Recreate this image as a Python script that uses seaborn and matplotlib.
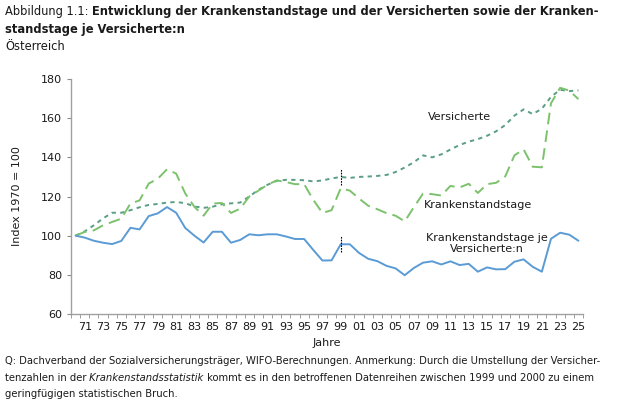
import matplotlib
matplotlib.use('Agg')
import numpy as np
import pandas as pd
import seaborn as sns
import matplotlib.pyplot as plt

# data (Index 1970 = 100)
years = list(range(1970, 2026))
versicherte = [100.0, 102.2, 105.3, 108.8, 111.7, 111.7, 113.0, 114.5, 115.7, 116.2,
               116.9, 117.2, 116.6, 114.9, 114.2, 114.8, 116.0, 116.5, 116.9, 120.0,
               123.4, 126.0, 128.0, 128.5, 128.5, 128.3, 127.7, 128.2, 129.2, 130.0,
               129.5, 130.0, 130.2, 130.5, 131.0, 132.5, 134.8, 137.5, 141.0, 140.0,
               141.5, 144.0, 146.3, 148.0, 149.3, 151.0, 153.3, 156.5, 161.3, 164.5,
               162.1, 164.8, 170.9, 174.5, 173.8, 174.2]
krankenstandstage = [100.0, 101.9, 102.7, 105.3, 107.0, 108.7, 116.4, 118.0, 126.6, 129.1,
                     133.9, 131.7, 121.5, 114.7, 110.2, 116.4, 116.7, 111.6, 113.8, 120.0,
                     123.0, 126.0, 128.2, 127.4, 126.3, 126.3, 118.3, 111.6, 113.0, 124.2,
                     123.0, 119.0, 115.3, 113.5, 111.5, 110.2, 107.3, 114.5, 121.5, 121.2,
                     120.5, 125.4, 124.6, 126.5, 121.8, 126.3, 127.0, 130.3, 141.0, 144.1,
                     135.2, 134.9, 167.6, 175.5, 174.1, 169.7]
je_versicherte = [100.0, 99.0, 97.4, 96.4, 95.7, 97.3, 104.0, 103.2, 110.0, 111.4,
                  114.6, 111.7, 103.9, 100.0, 96.5, 102.0, 102.0, 96.4, 97.8, 100.7,
                  100.2, 100.7, 100.7, 99.6, 98.3, 98.3, 92.7, 87.3, 87.4, 95.6,
                  95.6, 91.2, 88.2, 87.0, 84.6, 83.3, 79.8, 83.5, 86.2, 86.9,
                  85.3, 86.9, 85.0, 85.6, 81.6, 83.8, 82.8, 82.9, 86.7, 87.9,
                  84.1, 81.6, 98.4, 101.5, 100.5, 97.4]
tick_years = years[1::2]
tick_labels = ['%02d' % (y % 100) for y in tick_years]
break_year = 1999

df = pd.DataFrame({'Jahr': years, 'Versicherte': versicherte,
                   'Krankenstandstage': krankenstandstage,
                   'je': je_versicherte})

sns.set_style('white')
plt.rcParams['font.family'] = ['DejaVu Sans']
txt_col = '#1a1a1a'

fig = plt.figure(figsize=(6.42, 4.03), dpi=100)
ax = fig.add_axes([71/642, 1-314/403, 512/642, 235/403])

sns.lineplot(data=df, x='Jahr', y='Versicherte', ax=ax, color='#5a9e84',
             linewidth=1.4, linestyle=(0, (2.2, 2.2)))
sns.lineplot(data=df, x='Jahr', y='Krankenstandstage', ax=ax, color='#7cc26c',
             linewidth=1.4, linestyle=(0, (6, 3.2)))
sns.lineplot(data=df, x='Jahr', y='je', ax=ax, color='#5b9bd5', linewidth=1.4)

# statistical break markers at 1999
bi = years.index(break_year)
for vals in (versicherte, je_versicherte):
    ax.vlines(break_year, vals[bi]-4, vals[bi]+4, color='black', linewidth=0.8,
              linestyles=(0, (1.5, 1)))

ax.set_xlim(1969.5, 2025.5)
ax.set_ylim(60, 180)
ax.set_yticks(range(60, 181, 20))
ax.set_xticks(tick_years)
ax.set_xticklabels(tick_labels)
ax.set_xticks(np.arange(1969.5, 2026, 1), minor=True)
ax.tick_params(axis='x', which='major', length=0, labelsize=8, pad=6, colors=txt_col)
ax.tick_params(axis='x', which='minor', length=3, color='#8c8c8c', direction='out', bottom=True)
ax.tick_params(axis='y', length=3, color='#8c8c8c', direction='out', left=True,
               labelsize=8, colors=txt_col)
for s in ['top', 'right']:
    ax.spines[s].set_visible(False)
for s in ['left', 'bottom']:
    ax.spines[s].set_color('#a0a0a0')
    ax.spines[s].set_linewidth(1.0)

ax.set_xlabel('Jahre', fontsize=8, color=txt_col)
ax.xaxis.set_label_coords(0.5, -0.10)
ax.set_ylabel('Index 1970 = 100', fontsize=8, color=txt_col)
ax.yaxis.set_label_coords(-0.096, 0.5)

ax.text(2012, 160.6, 'Versicherte', fontsize=8, ha='center', va='center', color=txt_col)
ax.text(2014, 115.7, 'Krankenstandstage', fontsize=8, ha='center', va='center', color=txt_col)
ax.text(2015, 96, 'Krankenstandstage je\nVersicherte:n', fontsize=8, ha='center',
        va='center', color=txt_col, linespacing=1.15)

renderer = fig.canvas.get_renderer()


def pieces(y_px, parts, size):
    x = 5 / 642
    for s, kw in parts:
        t = fig.text(x, 1 - y_px/403, s, fontsize=size, ha='left', va='center',
                     color=txt_col, **kw)
        x = t.get_window_extent(renderer).x1 / fig.bbox.width


pieces(12, [('Abbildung 1.1:', {}),
            (' Entwicklung der Krankenstandstage und der Versicherten sowie der Kranken-',
             {'fontweight': 'bold'})], 8.3)
pieces(30, [('standstage je Versicherte:n', {'fontweight': 'bold'})], 8.3)
pieces(47, [('Österreich', {})], 8.3)

pieces(361, [('Q: Dachverband der Sozialversicherungsträger, WIFO-Berechnungen. Anmerkung: '
              'Durch die Umstellung der Versicher-', {})], 7.2)
pieces(378, [('tenzahlen in der', {}), (' Krankenstandsstatistik', {'fontstyle': 'italic'}),
             (' kommt es in den betroffenen Datenreihen zwischen 1999 und 2000 zu einem', {})], 7.2)
pieces(394, [('geringfügigen statistischen Bruch.', {})], 7.2)

fig.savefig('out.png', dpi=100)
